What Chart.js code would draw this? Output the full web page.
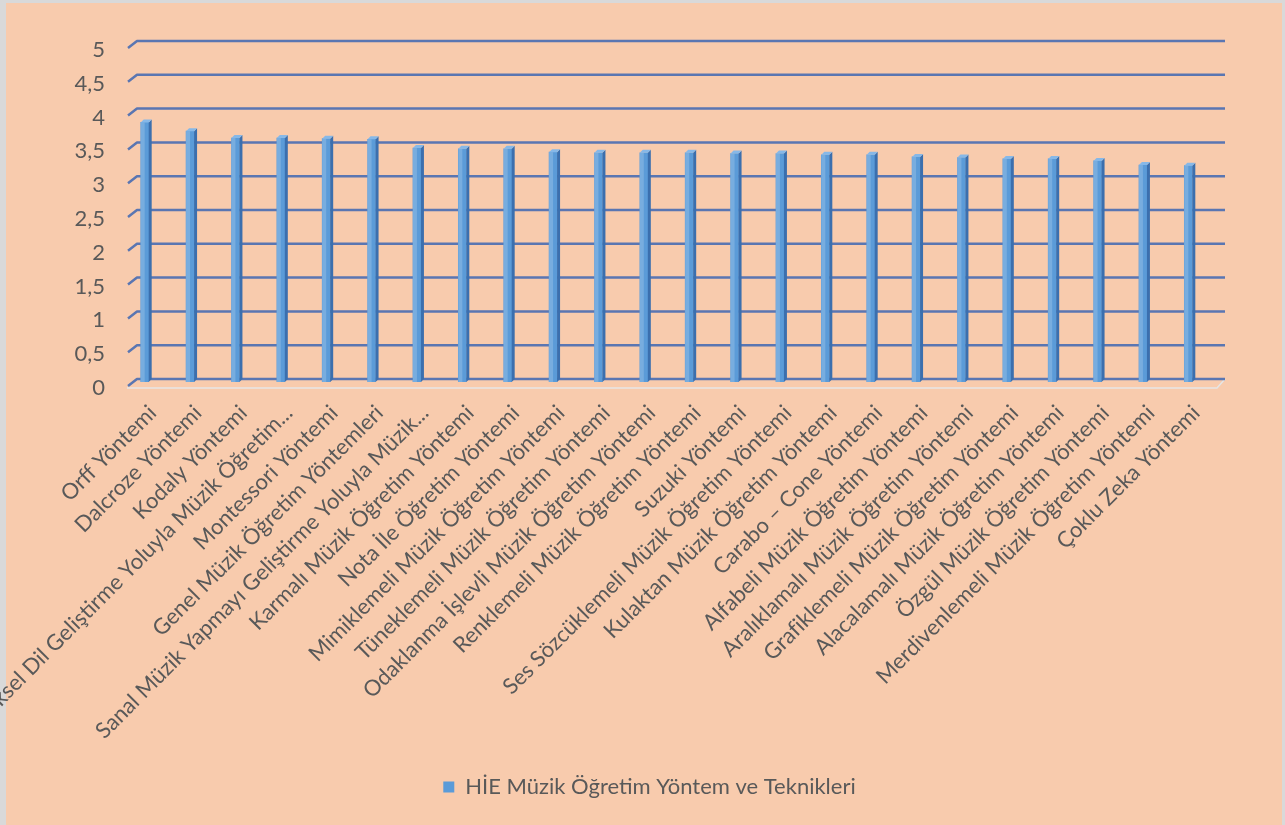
<!DOCTYPE html>
<html lang="tr">
<head>
<meta charset="UTF-8">
<title>HİE Müzik Öğretim Yöntem ve Teknikleri</title>
<style>
  body { margin: 0; background: #ffffff; }
  canvas { display: block; }
</style>
</head>
<body>
<canvas id="myChart" width="1285" height="825"></canvas>

<script src="https://cdn.jsdelivr.net/npm/chart.js"></script>
<script>
// kategoriler (x ekseni)
const categories = [
  'Orff Yöntemi',
  'Dalcroze Yöntemi',
  'Kodaly Yöntemi',
  'Müziksel Dil Geliştirme Yoluyla Müzik Öğretim...',
  'Montessori Yöntemi',
  'Genel Müzik Öğretim Yöntemleri',
  'Sanal Müzik Yapmayı Geliştirme Yoluyla Müzik...',
  'Karmalı Müzik Öğretim Yöntemi',
  'Nota İle Öğretim Yöntemi',
  'Mimiklemeli Müzik Öğretim Yöntemi',
  'Tüneklemeli Müzik Öğretim Yöntemi',
  'Odaklanma İşlevli Müzik Öğretim Yöntemi',
  'Renklemeli Müzik Öğretim Yöntemi',
  'Suzuki Yöntemi',
  'Ses Sözcüklemeli Müzik Öğretim Yöntemi',
  'Kulaktan Müzik Öğretim Yöntemi',
  'Carabo – Cone Yöntemi',
  'Alfabeli Müzik Öğretim Yöntemi',
  'Aralıklamalı Müzik Öğretim Yöntemi',
  'Grafiklemeli Müzik Öğretim Yöntemi',
  'Alacalamalı Müzik Öğretim Yöntemi',
  'Özgül Müzik Öğretim Yöntemi',
  'Merdivenlemeli Müzik Öğretim Yöntemi',
  'Çoklu Zeka Yöntemi'
];

// ortalama puanlar
const values = [3.84, 3.71, 3.61, 3.61, 3.60, 3.59, 3.46, 3.45, 3.45, 3.40, 3.39, 3.39,
                3.39, 3.38, 3.38, 3.36, 3.36, 3.33, 3.32, 3.30, 3.30, 3.27, 3.21, 3.20];

const seriesName = 'HİE Müzik Öğretim Yöntem ve Teknikleri';

// y ekseni
const yMin = 0;
const yMax = 5;
const yStep = 0.5;

const textColor = '#595959';
const fontFamily = 'Lato, "Open Sans", sans-serif';

// 3B görünüm: arka duvar, zemin ve sütun yan yüzleri
const excel3d = {
  id: 'excel3d',
  beforeDraw(chart) {
    const c = chart.ctx;
    c.save();
    c.fillStyle = '#d9d9d9';
    c.fillRect(0, 0, chart.width, chart.height);
    c.fillStyle = '#f8cbad';
    c.fillRect(6, 3, chart.width - 9, chart.height - 3);
    c.restore();
  },
  beforeDatasetsDraw(chart) {
    const c = chart.ctx;
    const a = chart.chartArea;
    const ys = chart.scales.y;
    c.save();
    // zemin ön kenarı
    const y0 = ys.getPixelForValue(0);
    c.strokeStyle = '#e6e6e6';
    c.lineWidth = 1.5;
    c.beginPath();
    c.moveTo(a.left + 5, y0 + 6);
    c.lineTo(a.right + 6, y0 + 6);
    c.lineTo(a.right + 14, y0 - 3);
    c.stroke();
    // ızgara çizgileri
    c.strokeStyle = '#5a76b2';
    c.lineWidth = 2.5;
    c.lineJoin = 'round';
    ys.ticks.forEach(t => {
      const y = ys.getPixelForValue(t.value);
      c.beginPath();
      c.moveTo(a.left + 6, y + 4);
      c.lineTo(a.left + 15, y - 3);
      c.lineTo(a.right + 14, y - 3);
      c.stroke();
    });
    c.restore();
  },
  afterDatasetsDraw(chart) {
    const c = chart.ctx;
    const meta = chart.getDatasetMeta(0);
    const d = 3;
    c.save();
    meta.data.forEach(el => {
      const r = el.x + el.width / 2;
      const l = el.x - el.width / 2;
      // ön yüzde hafif parlaklık
      c.fillStyle = 'rgba(255,255,255,0.18)';
      c.fillRect(l, el.y, el.width / 2, el.base - el.y);
      // yan yüz
      c.fillStyle = '#3b6fae';
      c.beginPath();
      c.moveTo(r, el.y);
      c.lineTo(r + d, el.y - d);
      c.lineTo(r + d, el.base - d);
      c.lineTo(r, el.base);
      c.closePath();
      c.fill();
      // üst yüz
      c.fillStyle = '#86b8e8';
      c.beginPath();
      c.moveTo(l, el.y);
      c.lineTo(r, el.y);
      c.lineTo(r + d, el.y - d);
      c.lineTo(l + d, el.y - d);
      c.closePath();
      c.fill();
    });
    c.restore();
  }
};

const ctx = document.getElementById('myChart');

new Chart(ctx, {
  type: 'bar',
  data: {
    labels: categories,
    datasets: [{
      label: seriesName,
      data: values,
      backgroundColor: '#5b9bd8',
      borderWidth: 0,
      barThickness: 8
    }]
  },
  options: {
    responsive: false,
    animation: false,
    layout: { padding: { top: 44, right: 0, bottom: 17, left: 14 } },
    plugins: {
      legend: {
        position: 'bottom',
        labels: {
          color: textColor,
          font: { family: fontFamily, size: 22 },
          boxWidth: 11,
          boxHeight: 11,
          padding: 10
        }
      },
      tooltip: { enabled: false }
    },
    scales: {
      x: {
        grid: { display: false, drawTicks: false },
        border: { display: false },
        ticks: {
          autoSkip: false,
          minRotation: 45,
          maxRotation: 45,
          color: textColor,
          font: { family: fontFamily, size: 22 },
          padding: 18,
          labelOffset: 8
        },
        afterFit(s) {
          s.height = 384;
          s.paddingLeft = 0;
          s.paddingRight = 74;
        }
      },
      y: {
        min: yMin,
        max: yMax,
        grid: { display: false, drawTicks: false },
        border: { display: false },
        ticks: {
          stepSize: yStep,
          color: textColor,
          font: { family: fontFamily, size: 22 },
          padding: 17,
          labelOffset: 6,
          callback: v => String(v).replace('.', ',')
        },
        afterFit(s) { s.width = 108; }
      }
    }
  },
  plugins: [excel3d]
});
</script>
</body>
</html>
